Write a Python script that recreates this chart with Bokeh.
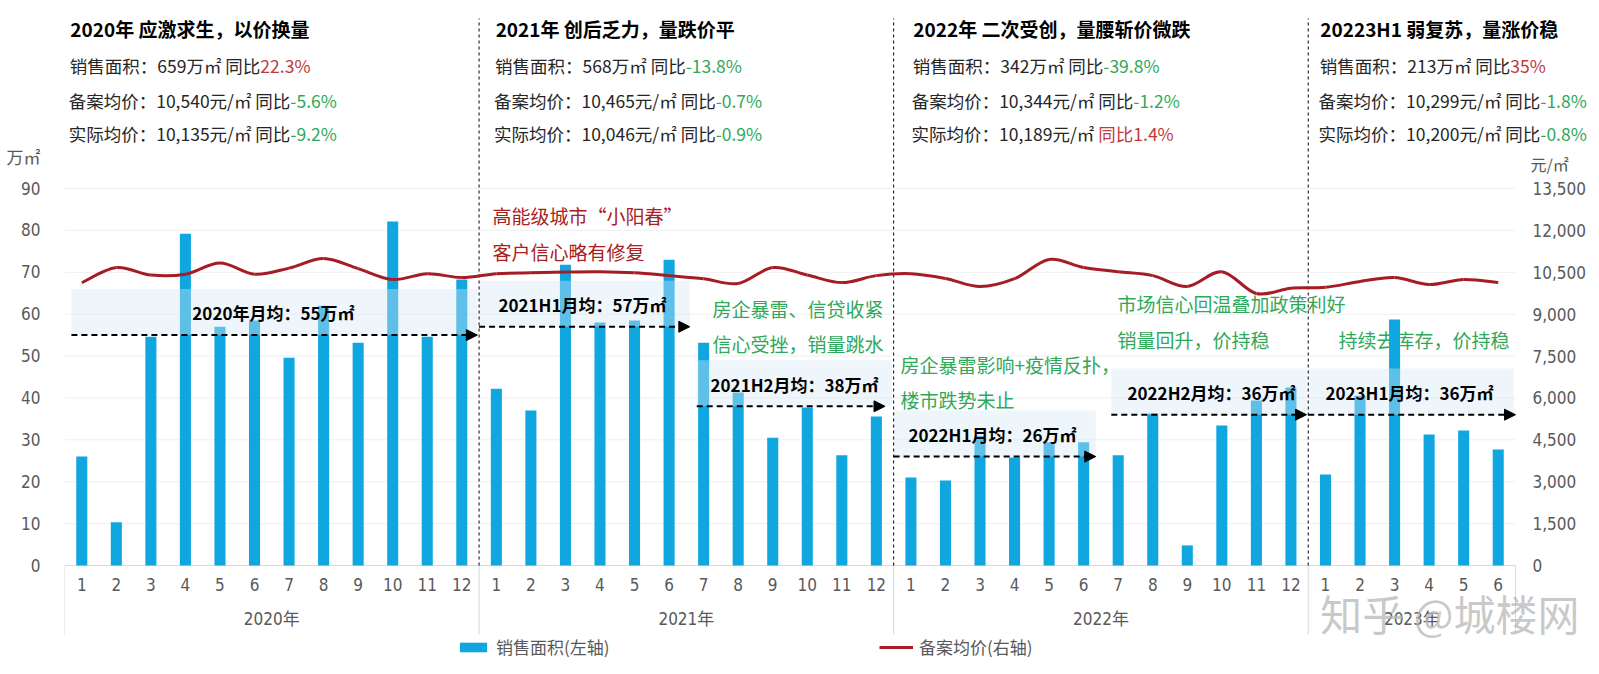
import numpy as np
from bokeh.plotting import figure
from bokeh.models import (ColumnDataSource, Range1d, FixedTicker,
                          Arrow, NormalHead, Label, Legend, LegendItem)
from bokeh.core.properties import value
from bokeh.embed import file_html
from bokeh.resources import INLINE

# ---------------- data ----------------
years = ["2020年", "2021年", "2022年", "2023年"]
months_per_year = [12, 12, 12, 6]
month_labels = [str(m) for n in months_per_year for m in range(1, n + 1)]

sales_2020 = [26.0, 10.3, 54.6, 79.2, 57.0, 58.5, 49.6, 62.0, 53.2, 82.1, 54.6, 68.3]
sales_2021 = [42.2, 37.0, 71.8, 58.0, 58.5, 73.0, 53.2, 41.3, 30.5, 37.7, 26.3, 35.6]
sales_2022 = [21.0, 20.3, 31.0, 25.8, 29.4, 29.4, 26.3, 36.3, 4.8, 33.4, 39.4, 42.5]
sales_2023 = [21.7, 40.5, 58.7, 31.3, 32.2, 27.7]
sales = sales_2020 + sales_2021 + sales_2022 + sales_2023

price_2020 = [10125, 10670, 10400, 10430, 10830, 10430, 10650, 10990, 10630, 10240, 10450, 10310]
price_2021 = [10450, 10480, 10510, 10520, 10480, 10380, 10270, 10100, 10670, 10400, 10130, 10380]
price_2022 = [10450, 10280, 9990, 10270, 10960, 10670, 10520, 10380, 9990, 10520, 9740, 9930]
price_2023 = [9960, 10170, 10310, 10060, 10240, 10130]
price = price_2020 + price_2021 + price_2022 + price_2023

left_ticks = [0, 10, 20, 30, 40, 50, 60, 70, 80, 90]
right_ticks = [0, 1500, 3000, 4500, 6000, 7500, 9000, 10500, 12000, 13500]
left_unit, right_unit = "万㎡", "元/㎡"

period_titles = ["2020年 应激求生，以价换量", "2021年 创后乏力，量跌价平",
                 "2022年 二次受创，量腰斩价微跌", "20223H1 弱复苏，量涨价稳"]
sales_area = ["659", "568", "342", "213"]
sales_yoy = ["22.3%", "-13.8%", "-39.8%", "35%"]
record_price = ["10,540", "10,465", "10,344", "10,299"]
record_yoy = ["-5.6%", "-0.7%", "-1.2%", "-1.8%"]
actual_price = ["10,135", "10,046", "10,189", "10,200"]
actual_yoy = ["-9.2%", "-0.9%", "1.4%", "-0.8%"]
yoy_tag_colored = [[False, False, False], [False, False, False],
                   [False, False, True], [False, False, False]]

avg_labels = ["2020年月均：55万㎡", "2021H1月均：57万㎡", "2021H2月均：38万㎡",
              "2022H1月均：26万㎡", "2022H2月均：36万㎡", "2023H1月均：36万㎡"]
avg_values = [55, 57, 38, 26, 36, 36]

red_notes = ["高能级城市“小阳春”", "客户信心略有修复"]
green_notes = ["房企暴雷、信贷收紧", "信心受挫，销量跳水",
               "房企暴雷影响+疫情反扑，", "楼市跌势未止",
               "市场信心回温叠加政策利好", "销量回升，价持稳",
               "持续去库存，价持稳"]
watermark = "知乎 @城楼网"

# ---------------- layout constants ----------------
W, H = 1599, 674
FRAME_L, PLOT_R = 64, 1515        # plot area (bars) spans FRAME_L..PLOT_R
AXIS_Y0 = 565                      # pixel row of value 0
PPU = 377 / 90.0                   # pixels per left-axis unit
PRICE_SCALE = 13500 / 90.0
n = len(sales)
U = (PLOT_R - FRAME_L) / n         # pixels per month slot
BAR_COLOR = "#10a7e0"
LINE_COLOR = "#a51c24"
RED = "#c0393b"
GREEN = "#2fa85a"
DARK = "#262626"
GRAY = "#595959"
CJK = "Noto Sans CJK SC"
NARROW = "'Liberation Sans Narrow', 'DejaVu Sans Condensed', 'Noto Sans CJK SC', sans-serif"


def yu(px):
    return (AXIS_Y0 - px) / PPU


xs = list(range(n))
x_lo, x_hi = -0.5, n - 0.5            # plot-area limits in month units
boundaries = list(np.cumsum([0] + months_per_year) - 0.5)
group_centers = [(boundaries[i] + boundaries[i + 1]) / 2 for i in range(len(years))]
divs = boundaries[1:-1]

y_lo, y_hi = yu(H), yu(0)
p = figure(width=W, height=H, output_backend="svg", toolbar_location=None,
           x_axis_type=None,
           x_range=Range1d(x_lo, x_lo + (W - FRAME_L) / U), y_range=Range1d(y_lo, y_hi),
           min_border_left=FRAME_L, min_border_right=0, min_border_top=0, min_border_bottom=0)
p.outline_line_color = None
p.extra_y_ranges = {"price": Range1d(y_lo * PRICE_SCALE, y_hi * PRICE_SCALE)}

# left axis (real axis) with unit label as an extra tick
left_unit_y = yu(157)
ya = p.yaxis[0]
ya.ticker = FixedTicker(ticks=left_ticks + [left_unit_y])
ya.major_label_overrides = {left_unit_y: left_unit}
ya.axis_line_color = None
ya.major_tick_line_color = None
ya.minor_tick_line_color = None
ya.major_tick_out = 0
ya.major_tick_in = 0
ya.minor_tick_out = 0
ya.minor_tick_in = 0
ya.major_label_standoff = 24
ya.major_label_text_font = NARROW
ya.major_label_text_font_size = "17px"
ya.major_label_text_color = GRAY
p.ygrid.visible = False

# gridlines limited to the plot area
p.segment(x0=[x_lo] * len(left_ticks), y0=left_ticks, x1=[x_hi] * len(left_ticks),
          y1=left_ticks, line_color="#efefef", line_width=1)
p.segment(x0=[x_lo], y0=[0], x1=[x_hi], y1=[0], line_color="#d9d9d9", line_width=1)

# right (price) scale labels
p.text(x=[x_hi] * len(right_ticks), y=right_ticks, y_range_name="price",
       text=["{:,}".format(t) for t in right_ticks], x_offset=17,
       text_font=value(NARROW), text_font_size="17px", text_color=GRAY,
       text_align="left", text_baseline="middle")
p.text(x=[x_hi], y=[yu(163) * PRICE_SCALE], y_range_name="price", text=[right_unit],
       x_offset=15, text_font=value(CJK), text_font_size="16px", text_color=GRAY,
       text_align="left", text_baseline="middle")

# category labels & separators
p.text(x=xs, y=[yu(584)] * n, text=month_labels, text_font=value(NARROW),
       text_font_size="17px", text_color=GRAY, text_align="center", text_baseline="middle")
p.text(x=group_centers, y=[yu(618)] * len(years), text=years, text_font=value(NARROW),
       text_font_size="17px", text_color=GRAY, text_align="center", text_baseline="middle")
p.segment(x0=boundaries, y0=[0] * len(boundaries), x1=boundaries,
          y1=[yu(634)] * len(boundaries), line_color="#d9d9d9", line_width=1)

# annotation texts under the bars
p.text(x=[11.89, 11.89], y=[yu(215), yu(251)], text=red_notes, text_font=value(CJK),
       text_font_size="19px", text_color="#a82020", text_align="left", text_baseline="middle")
green_x = [18.26, 18.26, 23.70, 23.70, 29.98, 29.98, 36.38]
green_y = [yu(308), yu(343), yu(364), yu(399), yu(303), yu(339), yu(339)]
p.text(x=green_x, y=green_y, text=green_notes, text_font=value(CJK), text_font_size="19px",
       text_color=GREEN, text_align="left", text_baseline="middle")

# bars
bars = p.vbar(x=xs, top=sales, width=0.32, bottom=0, fill_color=BAR_COLOR, line_color=None)

# period bands & averages
band_x0 = [-0.3, 11.5, 17.8, 23.5, 29.8, 35.5]
band_x1 = [11.45, 17.6, 23.45, 29.35, 35.45, 41.45]
band_src = ColumnDataSource(dict(x0=band_x0, x1=band_x1, b=avg_values,
                                 t=[a + 11 for a in avg_values]))
p.quad(left="x0", right="x1", bottom="b", top="t", source=band_src,
       fill_color="#d5e6f5", fill_alpha=0.4, line_color=None)

arrow_x1 = [11.45, 17.6, 23.25, 29.35, 35.45, 41.5]
arr_src = ColumnDataSource(dict(xs=band_x0, xe=arrow_x1, y=avg_values))
p.add_layout(Arrow(x_start="xs", y_start="y", x_end="xe", y_end="y", source=arr_src,
                   line_color="black", line_width=2, line_dash="6 4",
                   end=NormalHead(size=11, fill_color="black", line_color="black")))

avg_label_x = [3.2, 12.06, 18.2, 23.93, 30.27, 36.0]
p.text(x=avg_label_x, y=[a + 5.3 for a in avg_values], text=avg_labels,
       text_font=value(CJK), text_font_size="17px", text_font_style="bold",
       text_color="black", text_align="left", text_baseline="middle")

# dividers
p.segment(x0=divs, y0=[0] * len(divs), x1=divs, y1=[yu(18)] * len(divs),
          line_color="black", line_width=1, line_dash="3 3")

# price line (smoothed Catmull-Rom through the monthly values)
P = np.column_stack([np.array(xs, float), np.array(price, float)])
E = np.vstack([P[0], P, P[-1]])
p0 = E[1:-2]; p1 = E[2:-1]; pm = E[:-3]; pp = E[3:]
c0 = p0 + (p1 - pm) / 6.0
c1 = p1 - (pp - p0) / 6.0
line = p.bezier(x0=p0[:, 0], y0=p0[:, 1], x1=p1[:, 0], y1=p1[:, 1],
                cx0=c0[:, 0], cy0=c0[:, 1], cx1=c1[:, 0], cy1=c1[:, 1],
                y_range_name="price", line_color=LINE_COLOR, line_width=3)

# ---------------- headers ----------------
header_x = [-0.33, 11.98, 24.07, 35.85]
p.text(x=header_x, y=[yu(28)] * 4, text=period_titles, text_font=value(CJK),
       text_font_size="19px", text_font_style="bold", text_color="black",
       text_align="left", text_baseline="middle")

line_y = [yu(65), yu(100), yu(133)]
anchor_px = [190, 220, 220]
pre_x, pre_y, pre_t, pre_off = [], [], [], []
suf_x, suf_y, suf_t, suf_off, suf_c = [], [], [], [], []
for s in range(4):
    parts = [("销售面积：%s万㎡" % sales_area[s], sales_yoy[s]),
             ("备案均价：%s元/㎡" % record_price[s], record_yoy[s]),
             ("实际均价：%s元/㎡" % actual_price[s], actual_yoy[s])]
    for k, (pre, yoy) in enumerate(parts):
        col = GREEN if yoy.startswith("-") else RED
        if yoy_tag_colored[s][k]:
            a = anchor_px[k] - 35
            pre_t.append(pre); pre_off.append(a - 4)
            suf_t.append("同比" + yoy); suf_off.append(a)
        else:
            pre_t.append(pre + " 同比"); pre_off.append(anchor_px[k])
            suf_t.append(yoy); suf_off.append(anchor_px[k])
        pre_x.append(header_x[s]); pre_y.append(line_y[k])
        suf_x.append(header_x[s]); suf_y.append(line_y[k]); suf_c.append(col)

p.text(x=pre_x, y=pre_y, text=pre_t, x_offset=pre_off, text_font=value(CJK),
       text_font_size="17.5px", text_color=DARK, text_align="right", text_baseline="middle")
p.text(x=suf_x, y=suf_y, text=suf_t, x_offset=suf_off, text_color=suf_c,
       text_font=value(CJK), text_font_size="17.5px", text_align="left",
       text_baseline="middle")

# watermark
p.add_layout(Label(x=35.85, y=yu(612), text=watermark, text_font=CJK,
                   text_font_size="42px", text_color="#b8b8b8", text_alpha=0.75,
                   text_baseline="middle", text_align="left"))

# legend
legend = Legend(items=[LegendItem(label="销售面积(左轴)", renderers=[bars]),
                       LegendItem(label="备案均价(右轴)", renderers=[line])],
                orientation="horizontal", location=(392, 15),
                glyph_width=34, glyph_height=12, label_standoff=6, label_width=383,
                spacing=0, padding=0, margin=0, border_line_color=None,
                background_fill_alpha=0, label_text_font=CJK,
                label_text_font_size="17px", label_text_color=GRAY)
p.add_layout(legend)

open("out.html", "w").write(file_html(p, INLINE))
